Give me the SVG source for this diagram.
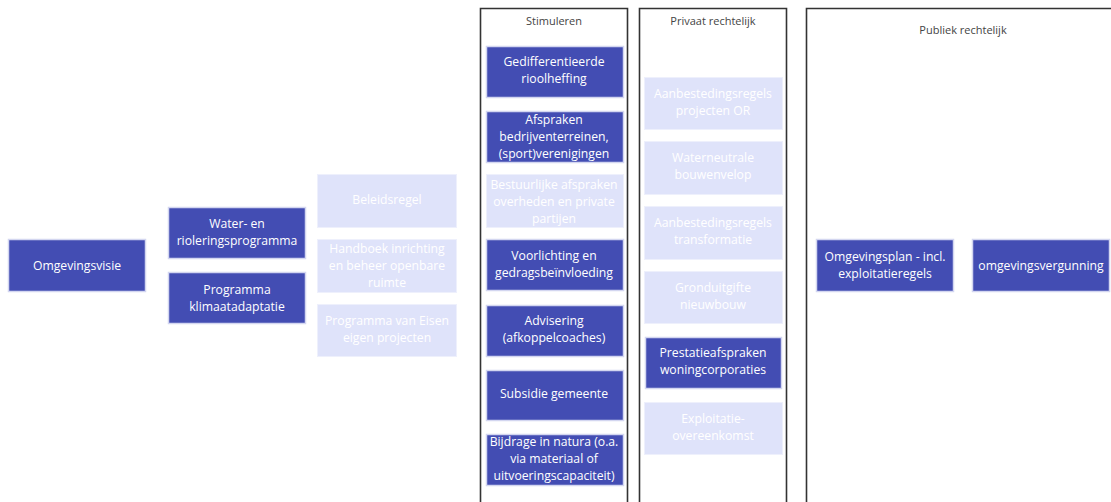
<svg xmlns="http://www.w3.org/2000/svg" width="1111" height="502" viewBox="0 0 1111 502">
<style>
.col{fill:none;stroke:#333;stroke-width:1.6}
.hdr{font-family:"Open Sans","Liberation Sans",sans-serif;font-size:11px;fill:#444;text-anchor:middle}
.d{fill:#434db3;stroke:#d3d6f0;stroke-width:1.5}
.l{fill:#dfe3fa;stroke:#eef0fc;stroke-width:1}
.t{font-family:"Open Sans","Liberation Sans",sans-serif;font-size:12.2px;fill:#fff;text-anchor:middle}
</style>
<rect width="1111" height="502" fill="#fff"/>
<g id="columns">
<path class="col" d="M480.5,510 V8.5 H627.5 V510"/>
<path class="col" d="M639.5,510 V8.5 H786.5 V510"/>
<path class="col" d="M806.5,510 V8.5 H1115"/>
<text class="hdr" x="554" y="25">Stimuleren</text>
<text class="hdr" x="713" y="25">Privaat rechtelijk</text>
<text class="hdr" x="963" y="34">Publiek rechtelijk</text>
</g>
<g id="connectors"></g>
<g id="n-omgevingsvisie"><rect class="d" x="8.5" y="239.5" width="137" height="52"/><text class="t" x="77" y="270">Omgevingsvisie</text></g>
<g id="n-water"><rect class="d" x="168.5" y="207.5" width="137" height="51"/><text class="t" x="237" y="228">Water- en</text><text class="t" x="237" y="245">rioleringsprogramma</text></g>
<g id="n-klimaat"><rect class="d" x="168.5" y="272.5" width="137" height="51"/><text class="t" x="237" y="294">Programma</text><text class="t" x="237" y="311">klimaatadaptatie</text></g>
<g id="n-beleidsregel"><rect class="l" x="317.5" y="174.5" width="139" height="53"/><text class="t" x="387" y="204">Beleidsregel</text></g>
<g id="n-handboek"><rect class="l" x="317.5" y="239.5" width="139" height="53"/><text class="t" x="387" y="253">Handboek inrichting</text><text class="t" x="387" y="270">en beheer openbare</text><text class="t" x="387" y="287">ruimte</text></g>
<g id="n-pve"><rect class="l" x="317.5" y="304.5" width="139" height="52"/><text class="t" x="387" y="325">Programma van Eisen</text><text class="t" x="387" y="342">eigen projecten</text></g>
<g id="n-gedifferentieerde"><rect class="d" x="486.5" y="46.5" width="137" height="51"/><text class="t" x="554" y="66">Gedifferentieerde</text><text class="t" x="554" y="83">rioolheffing</text></g>
<g id="n-afspraken"><rect class="d" x="486.5" y="111.5" width="137" height="51"/><text class="t" x="554" y="124">Afspraken</text><text class="t" x="554" y="141">bedrijventerreinen,</text><text class="t" x="554" y="158">(sport)verenigingen</text></g>
<g id="n-bestuurlijke"><rect class="l" x="486.5" y="174.5" width="137" height="53"/><text class="t" x="554" y="189">Bestuurlijke afspraken</text><text class="t" x="554" y="206">overheden en private</text><text class="t" x="554" y="223">partijen</text></g>
<g id="n-voorlichting"><rect class="d" x="486.5" y="239.5" width="137" height="51"/><text class="t" x="554" y="260">Voorlichting en</text><text class="t" x="554" y="277">gedragsbeïnvloeding</text></g>
<g id="n-advisering"><rect class="d" x="486.5" y="305.5" width="137" height="51"/><text class="t" x="554" y="325">Advisering</text><text class="t" x="554" y="342">(afkoppelcoaches)</text></g>
<g id="n-subsidie"><rect class="d" x="486.5" y="370.5" width="137" height="50"/><text class="t" x="554" y="398">Subsidie gemeente</text></g>
<g id="n-bijdrage"><rect class="d" x="486.5" y="434.5" width="137" height="51"/><text class="t" x="554" y="446">Bijdrage in natura (o.a.</text><text class="t" x="554" y="463">via materiaal of</text><text class="t" x="554" y="480">uitvoeringscapaciteit)</text></g>
<g id="n-aanbesteding-or"><rect class="l" x="644.5" y="77.5" width="138" height="52"/><text class="t" x="713" y="98">Aanbestedingsregels</text><text class="t" x="713" y="115">projecten OR</text></g>
<g id="n-waterneutrale"><rect class="l" x="644.5" y="141.5" width="138" height="53"/><text class="t" x="713" y="162">Waterneutrale</text><text class="t" x="713" y="179">bouwenvelop</text></g>
<g id="n-aanbesteding-tr"><rect class="l" x="644.5" y="206.5" width="138" height="53"/><text class="t" x="713" y="227">Aanbestedingsregels</text><text class="t" x="713" y="244">transformatie</text></g>
<g id="n-gronduitgifte"><rect class="l" x="644.5" y="271.5" width="138" height="52"/><text class="t" x="713" y="292">Gronduitgifte</text><text class="t" x="713" y="309">nieuwbouw</text></g>
<g id="n-prestatie"><rect class="d" x="645.5" y="337.5" width="136" height="51"/><text class="t" x="713" y="357">Prestatieafspraken</text><text class="t" x="713" y="374">woningcorporaties</text></g>
<g id="n-exploitatie"><rect class="l" x="644.5" y="402.5" width="138" height="52"/><text class="t" x="713" y="423">Exploitatie-</text><text class="t" x="713" y="440">overeenkomst</text></g>
<g id="n-omgevingsplan"><rect class="d" x="816.5" y="239.5" width="137" height="52"/><text class="t" x="885" y="261">Omgevingsplan - incl.</text><text class="t" x="885" y="278">exploitatieregels</text></g>
<g id="n-omgevingsvergunning"><rect class="d" x="972.5" y="239.5" width="137" height="52"/><text class="t" x="1041" y="270">omgevingsvergunning</text></g>
</svg>
